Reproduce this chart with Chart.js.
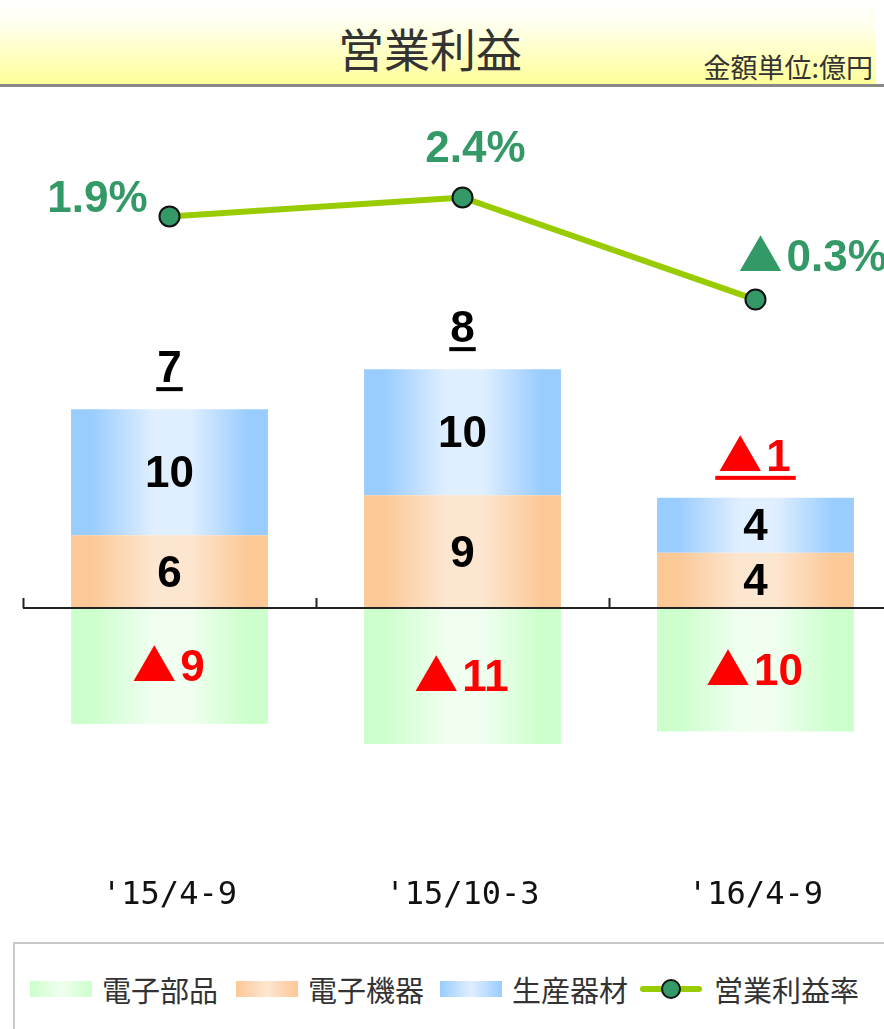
<!DOCTYPE html>
<html lang="ja">
<head>
<meta charset="utf-8">
<script src="https://cdn.jsdelivr.net/npm/chart.js@4.4.1/dist/chart.umd.min.js"></script>
<style>
html, body { margin: 0; padding: 0; background: #fff; overflow: hidden; width: 884px; height: 1029px; }
#header { position: absolute; left: 0; top: 0; width: 876px; height: 84px;
  background: linear-gradient(#ffffff 0%, #fffff2 25%, #ffff99 100%); }
#rule { position: absolute; left: 0; top: 84px; width: 884px; height: 3px; background: #888; }
#title { position: absolute; left: 0; top: 17px; width: 860px; height: 60px; line-height: 60px;
  text-align: center; font-size: 46px; font-family: "Noto Sans CJK JP", sans-serif; color: #333; }
#unit { position: absolute; right: 11px; top: 51px; height: 32px; line-height: 32px;
  font-size: 27px; font-family: "Noto Sans CJK JP", sans-serif; color: #333; }
#wrap { position: absolute; left: 0; top: 87px; width: 910px; height: 843px; }
#legend { position: absolute; left: 13px; top: 942px; width: 900px; height: 120px;
  border: 2px solid #c8c8c8; box-sizing: border-box; }
.item { position: absolute; top: 27px; height: 36px; display: flex; align-items: center;
  font-size: 29px; font-family: "Noto Sans CJK JP", sans-serif; color: #333; }
.sw { width: 62px; height: 16px; margin-right: 10px; }
.ln { position: relative; width: 62px; height: 20px; margin-right: 12px; }
.ln i { position: absolute; left: 0; top: 7px; width: 62px; height: 6px; background: #99cc00; border-radius: 3px; }
.ln b { position: absolute; left: 21px; top: 0; width: 16px; height: 16px; border-radius: 50%;
  background: #339966; border: 2px solid #111; }
</style>
</head>
<body>
<div id="header"></div>
<div id="rule"></div>
<div id="title">営業利益</div>
<div id="unit">金額単位:億円</div>
<div id="wrap"><canvas id="chart" width="910" height="843"></canvas></div>
<div id="legend"></div>

<script>
// 営業利益 (億円) and 営業利益率 (%)

const categories = ["'15/4-9", "'15/10-3", "'16/4-9"]
const seriesNames = ['電子部品', '電子機器', '生産器材', '営業利益率']

const partsValues = [-9.3, -10.9, -9.9]   // 電子部品
const devicesValues = [5.8, 9.0, 4.4]     // 電子機器
const equipmentValues = [10.1, 10.1, 4.4] // 生産器材
const marginValues = [1.9, 2.4, -0.3]     // 営業利益率

// colours: [edge, middle] of the horizontal bar gradient
const fills = [
    ['#ccffcc', '#f0fff0'],
    ['#fcc896', '#fde6d0'],
    ['#99ccff', '#e0efff'],
]
const CAT_PCT = 0.672

// where each margin label sits relative to its point
const marginPlace = [
    { align: 'right', dx: -22, dy: -20 },
    { align: 'center', dx: 13, dy: -52 },
    { align: 'left', dx: -15, dy: -45 },
]

let fmtNum = function (v, digits) {
    return digits ? Math.abs(v).toFixed(digits) : String(Math.round(Math.abs(v)))
}

let barFill = function (edge, mid) {
    return function (ctx) {
        let chart = ctx.chart
        let x = chart.scales.x
        if (ctx.type !== 'data' || !chart.chartArea || !x) return edge
        let w = x.width / categories.length * CAT_PCT
        let cx = x.getPixelForValue(ctx.dataIndex)
        let g = chart.ctx.createLinearGradient(cx - w / 2, 0, cx + w / 2, 0)
        g.addColorStop(0, edge)
        g.addColorStop(0.1, edge)
        g.addColorStop(0.42, mid)
        g.addColorStop(0.6, mid)
        g.addColorStop(0.9, edge)
        g.addColorStop(1, edge)
        return g
    }
}

const numFont = 'bold 44px "Liberation Sans", sans-serif'
const markFont = 'bold 44px "Noto Sans CJK JP", sans-serif'

// draws a number, with a ▲ in front when it is a loss; y is the text middle
// returns [left, width] of what was drawn
let drawValue = function (c, v, digits, suffix, x, y, align) {
    let num = fmtNum(v, digits) + suffix
    c.font = numFont
    let wNum = c.measureText(num).width
    c.font = markFont
    let mark = v < 0 ? '▲' : ''
    let wMark = mark ? c.measureText(mark).width + 2 : 0
    let w = wMark + wNum
    let left = align === 'left' ? x : align === 'right' ? x - w : x - w / 2
    let base = y + 16
    c.textAlign = 'left'
    c.textBaseline = 'alphabetic'
    if (mark) {
        c.font = markFont
        c.fillText(mark, left - 2, base + 1)
    }
    c.font = numFont
    c.fillText(num, left + wMark, base)
    return [left, w]
}

// zero line, tick marks and all value labels
const labelPlugin = {
    id: 'labels',
    afterDatasetsDraw(chart) {
        let c = chart.ctx
        let area = chart.chartArea
        let y = chart.scales.y
        let zero = Math.round(y.getPixelForValue(0))
        let slot = (area.right - area.left) / categories.length

        c.save()
        c.strokeStyle = '#222'
        c.lineWidth = 2
        c.beginPath()
        c.moveTo(area.left, zero)
        c.lineTo(area.right, zero)
        for (let i = 0; i <= categories.length; i++) {
            let px = Math.round(area.left + i * slot) + 0.5
            c.moveTo(px, zero - 10)
            c.lineTo(px, zero)
        }
        c.stroke()

        // segment values
        for (let d = 0; d < 3; d++) {
            let meta = chart.getDatasetMeta(d)
            meta.data.forEach((bar, i) => {
                let v = chart.data.datasets[d].data[i]
                c.fillStyle = v < 0 ? '#ff0000' : '#000'
                drawValue(c, v, 0, '', bar.x, (bar.y + bar.base) / 2 - 1, 'center')
            })
        }

        // totals above the stack, underlined
        categories.forEach((cat, i) => {
            let pos = 0, total = 0
            for (let d = 0; d < 3; d++) {
                let v = chart.data.datasets[d].data[i]
                total += v
                if (v > 0) pos += v
            }
            let cx = chart.getDatasetMeta(0).data[i].x
            let top = y.getPixelForValue(pos)
            c.fillStyle = total < 0 ? '#ff0000' : '#000'
            let box = drawValue(c, total, 0, '', cx, top - 43, 'center')
            let pad = total < 0 ? 5 : 1
            c.fillRect(box[0] - pad, top - 22, box[1] + pad * 2, 4)
        })

        // margin labels
        c.fillStyle = '#339966'
        let lineMeta = chart.getDatasetMeta(3)
        lineMeta.data.forEach((pt, i) => {
            let p = marginPlace[i]
            drawValue(c, marginValues[i], 1, '%', pt.x + p.dx, pt.y + p.dy, p.align)
        })
        c.restore()
    }
}

let chart = new Chart(document.getElementById('chart').getContext('2d'), {
    data: {
        labels: categories,
        datasets: [
            { type: 'bar', label: seriesNames[0], data: partsValues, backgroundColor: barFill(fills[0][0], fills[0][1]) },
            { type: 'bar', label: seriesNames[1], data: devicesValues, backgroundColor: barFill(fills[1][0], fills[1][1]) },
            { type: 'bar', label: seriesNames[2], data: equipmentValues, backgroundColor: barFill(fills[2][0], fills[2][1]) },
            {
                type: 'line', label: seriesNames[3], data: marginValues, yAxisID: 'y2', order: 0,
                borderColor: '#99cc00', borderWidth: 6, tension: 0,
                pointRadius: 10, pointBackgroundColor: '#339966', pointBorderColor: '#111', pointBorderWidth: 2,
            },
        ].map((ds, i) => i < 3 ? Object.assign(ds, {
            order: 1, yAxisID: 'y', stack: 's', borderWidth: 0,
            barPercentage: 1, categoryPercentage: CAT_PCT,
        }) : ds)
    },
    options: {
        responsive: false,
        animation: false,
        devicePixelRatio: 1,
        layout: { autoPadding: false, padding: { left: 23, right: 8, top: 16, bottom: 0 } },
        plugins: { legend: { display: false }, tooltip: { enabled: false } },
        scales: {
            x: {
                stacked: true,
                grid: { display: false },
                border: { display: false },
                ticks: {
                    color: '#111', padding: 9, maxRotation: 0, autoSkip: false,
                    font: { family: '"DejaVu Sans Mono", monospace', size: 32 },
                },
                afterFit(scale) { scale.height = 71 },
            },
            y: { stacked: true, display: false, min: -20.1, max: 40.4 },
            y2: { display: false, min: -15.1, max: 4.9 },
        }
    },
    plugins: [labelPlugin]
})

// HTML legend built from the series names
let legend = document.getElementById('legend')
let lefts = [15, 221, 425, 625]
seriesNames.forEach((name, i) => {
    let item = document.createElement('div')
    item.className = 'item'
    item.style.left = lefts[i] + 'px'
    if (i < 3) {
        let sw = document.createElement('span')
        sw.className = 'sw'
        sw.style.background = 'linear-gradient(90deg,' + fills[i][0] + ' 0%,' + fills[i][1] + ' 50%,' + fills[i][0] + ' 100%)'
        item.appendChild(sw)
    } else {
        let ln = document.createElement('span')
        ln.className = 'ln'
        ln.innerHTML = '<i></i><b></b>'
        item.appendChild(ln)
    }
    item.appendChild(document.createTextNode(name))
    legend.appendChild(item)
})
</script>
</body>
</html>
